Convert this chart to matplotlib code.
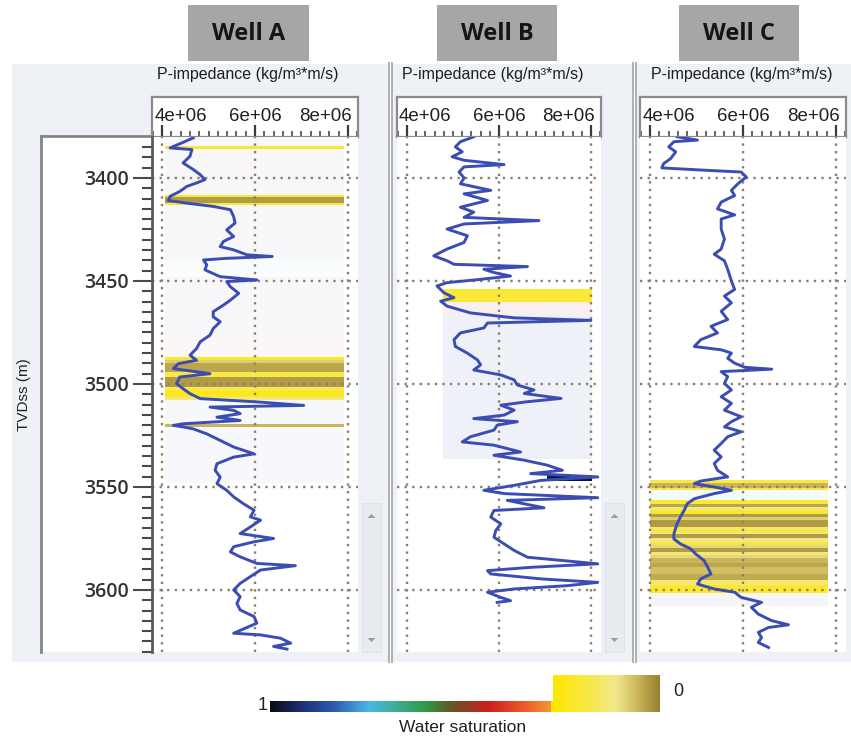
import numpy as np
import matplotlib
matplotlib.use("Agg")
import matplotlib.pyplot as plt
from matplotlib.colors import LinearSegmentedColormap
from matplotlib.patches import Rectangle, Polygon
from matplotlib.ticker import MultipleLocator, FixedLocator
from matplotlib.transforms import ScaledTranslation

# ---------------------------------------------------------------- data
well_names = ["Well A", "Well B", "Well C"]
x_title = "P-impedance (kg/m\u00b3*m/s)"
y_title = "TVDss (m)"
imp_ticks = [4e6, 6e6, 8e6]
imp_tick_labels = ["4e+06", "6e+06", "8e+06"]
depth_ticks = [3400, 3450, 3500, 3550, 3600]

# P-impedance logs: depth (m TVDss) and impedance (x1e6 kg/m3*m/s)
wellA_depth = [3380.5, 3383.0, 3385.4, 3386.2, 3389.4, 3392.7, 3395.9, 3398.4,
               3400.8, 3402.4, 3404.1, 3406.5, 3408.9, 3410.9, 3412.2, 3413.8,
               3415.4, 3418.7, 3421.9, 3425.2, 3428.4, 3430.8, 3433.3, 3434.9,
               3437.3, 3438.1, 3439.0, 3439.8, 3442.2, 3444.6, 3447.9, 3449.5,
               3450.3, 3452.8, 3456.0, 3459.3, 3461.7, 3464.9, 3467.4, 3469.8,
               3473.1, 3476.3, 3479.5, 3482.8, 3486.0, 3488.5, 3490.1, 3492.5,
               3495.0, 3496.6, 3499.8, 3502.3, 3504.7, 3507.1, 3508.8, 3510.4,
               3511.2, 3512.8, 3514.4, 3516.1, 3517.7, 3519.3, 3520.1, 3521.0,
               3521.8, 3524.2, 3527.4, 3530.6, 3533.9, 3535.5, 3538.7, 3541.9,
               3545.2, 3548.4, 3551.6, 3554.8, 3558.1, 3561.3, 3564.5, 3566.1,
               3569.4, 3572.6, 3575.0, 3576.6, 3579.0, 3581.5, 3583.9, 3587.1,
               3588.2, 3590.3, 3593.5, 3596.8, 3600.0, 3603.2, 3606.5, 3609.7,
               3612.9, 3616.1, 3621.0, 3621.8, 3623.4, 3625.8, 3627.4, 3628.7]
wellA_imp = [4.67, 4.42, 4.17, 4.64, 4.60, 4.45, 4.67, 4.82,
             4.92, 4.74, 4.53, 4.38, 4.17, 4.13, 4.53, 5.10,
             5.47, 5.54, 5.57, 5.39, 5.54, 5.32, 5.25, 5.54,
             5.83, 6.37, 5.39, 4.89, 4.96, 4.92, 5.25, 6.04,
             5.39, 5.47, 5.65, 5.47, 5.32, 5.10, 5.10, 5.25,
             5.10, 5.03, 4.82, 4.74, 4.60, 4.74, 4.35, 4.24,
             5.03, 4.38, 4.31, 4.45, 4.60, 4.82, 6.12, 7.05,
             5.03, 5.54, 5.68, 5.18, 5.68, 4.45, 4.24, 4.49,
             4.67, 4.96, 5.25, 5.54, 5.98, 5.54, 5.18, 5.14,
             5.25, 5.18, 5.39, 5.54, 5.75, 5.98, 5.90, 6.12,
             5.90, 5.68, 6.40, 5.98, 5.54, 5.47, 5.68, 6.04,
             6.87, 6.12, 5.90, 5.68, 5.54, 5.68, 5.61, 5.68,
             5.98, 6.04, 5.54, 6.12, 6.55, 6.77, 6.40, 6.69]

wellB_depth = [3380.0, 3382.4, 3384.9, 3387.3, 3389.7, 3391.4, 3393.5, 3394.6,
               3397.1, 3400.0, 3402.8, 3406.0, 3407.7, 3410.9, 3414.2, 3416.6,
               3419.1, 3420.7, 3422.3, 3424.8, 3428.0, 3431.3, 3434.5, 3437.8,
               3440.2, 3441.9, 3443.0, 3444.3, 3445.9, 3447.6, 3449.2, 3450.8,
               3452.4, 3455.7, 3458.1, 3459.8, 3462.2, 3465.5, 3467.9, 3469.1,
               3470.4, 3472.8, 3475.2, 3478.5, 3481.8, 3485.0, 3488.3, 3490.7,
               3493.2, 3495.6, 3498.0, 3500.5, 3502.9, 3504.6, 3507.0, 3508.6,
               3510.3, 3512.7, 3515.1, 3516.8, 3518.3, 3520.0, 3522.4, 3525.6,
               3528.1, 3529.7, 3533.0, 3534.6, 3537.0, 3539.4, 3541.9, 3543.5,
               3545.1, 3546.8, 3549.2, 3551.6, 3553.2, 3555.2, 3556.5, 3560.1,
               3561.4, 3564.6, 3567.9, 3571.1, 3574.4, 3577.6, 3580.8, 3584.1,
               3587.3, 3589.0, 3590.6, 3592.2, 3594.6, 3596.3, 3597.9, 3599.5,
               3601.1, 3603.6, 3605.2, 3606.0]
wellB_imp = [5.45, 5.16, 5.05, 5.20, 4.98, 5.24, 6.11, 5.24,
             5.13, 5.24, 5.16, 5.82, 5.24, 5.75, 5.16, 5.45,
             5.24, 6.87, 5.24, 4.87, 5.31, 5.24, 4.87, 4.58,
             4.87, 5.02, 6.62, 5.67, 5.89, 6.25, 5.60, 4.87,
             4.65, 4.80, 5.02, 4.73, 4.87, 5.38, 6.33, 8.00,
             5.75, 5.67, 5.16, 5.02, 5.05, 5.31, 5.53, 5.60,
             5.45, 6.04, 6.33, 6.40, 6.76, 6.55, 7.35, 6.62,
             6.04, 6.33, 6.11, 5.45, 6.40, 5.96, 5.89, 5.38,
             5.20, 5.89, 6.47, 5.89, 6.55, 7.05, 7.38, 6.69,
             8.15, 6.91, 6.33, 5.67, 6.11, 8.15, 6.18, 6.98,
             5.89, 5.82, 6.04, 5.93, 5.89, 6.11, 6.33, 6.62,
             8.15, 6.69, 5.75, 5.82, 6.91, 8.15, 7.49, 6.33,
             5.75, 6.04, 6.25, 5.96]

wellC_depth = [3380.0, 3381.6, 3382.4, 3384.9, 3387.3, 3390.6, 3393.0, 3395.1,
               3396.3, 3397.1, 3399.5, 3402.8, 3406.0, 3408.5, 3411.7, 3415.0,
               3417.9, 3419.9, 3424.8, 3429.6, 3434.5, 3437.0, 3440.2, 3444.3,
               3450.0, 3454.1, 3457.3, 3460.6, 3464.7, 3468.7, 3472.0, 3475.2,
               3478.5, 3481.8, 3483.4, 3485.0, 3487.5, 3489.9, 3491.9, 3492.8,
               3494.0, 3496.4, 3499.7, 3502.9, 3506.2, 3509.4, 3512.7, 3515.9,
               3518.3, 3520.8, 3523.2, 3525.6, 3528.9, 3532.1, 3535.4, 3538.6,
               3541.9, 3545.1, 3547.1, 3548.4, 3550.0, 3551.6, 3553.2, 3555.7,
               3558.1, 3561.4, 3564.6, 3567.9, 3572.7, 3575.2, 3577.6, 3580.0,
               3582.5, 3585.7, 3589.0, 3592.2, 3594.6, 3597.1, 3599.5, 3601.1,
               3603.6, 3606.0, 3608.4, 3611.7, 3614.9, 3616.9, 3618.2, 3620.6,
               3623.1, 3625.5, 3627.9]
wellC_imp = [4.58, 5.02, 4.51, 4.40, 4.55, 4.44, 4.29, 4.25,
             5.24, 5.96, 6.07, 5.89, 5.75, 5.82, 5.53, 5.45,
             5.82, 5.53, 5.53, 5.60, 5.53, 5.38, 5.60, 5.67,
             5.75, 5.82, 5.60, 5.75, 5.53, 5.67, 5.31, 5.45,
             5.09, 4.95, 5.53, 5.75, 5.67, 5.82, 6.04, 6.62,
             5.53, 5.67, 5.60, 5.75, 5.53, 5.75, 5.60, 5.96,
             5.75, 5.60, 5.96, 5.67, 5.53, 5.38, 5.53, 5.38,
             5.45, 5.67, 5.09, 4.95, 5.38, 5.75, 5.38, 4.95,
             4.80, 4.73, 4.65, 4.58, 4.51, 4.51, 4.65, 4.87,
             4.98, 5.16, 5.24, 5.31, 5.09, 5.02, 5.38, 5.82,
             5.96, 6.40, 6.18, 6.33, 6.62, 6.98, 6.55, 6.33,
             6.40, 6.33, 6.55]

# Water-saturation intervals: top, base (m TVDss), Sw, and left edge of the shading (x1e6)
wellA_sw_top = [3380.1, 3384.3, 3386.0, 3393.0, 3397.0, 3408.1, 3409.1, 3412.0,
                3413.0, 3440.0, 3448.0, 3476.0, 3486.9, 3488.5, 3490.0, 3494.2,
                3496.6, 3501.5, 3503.1, 3506.3, 3507.9, 3519.2, 3520.9]
wellA_sw_base = [3384.3, 3386.0, 3393.0, 3397.0, 3408.1, 3409.1, 3412.0, 3413.0,
                 3440.0, 3448.0, 3476.0, 3486.9, 3488.5, 3490.0, 3494.2, 3496.6,
                 3501.5, 3503.1, 3506.3, 3507.9, 3519.2, 3520.9, 3548.0]
wellA_sw = [0.90, 0.16, 0.88, 0.42, 0.90, 0.15, 0.02, 0.15,
            0.90, 0.70, 0.90, 0.40, 0.16, 0.06, 0.03, 0.14,
            0.02, 0.12, 0.17, 0.09, 0.88, 0.04, 0.85]
wellA_sw_left = [4.05] * len(wellA_sw)

wellB_sw_top = [3453.7, 3460.2, 3466.7, 3544.3]
wellB_sw_base = [3460.2, 3466.7, 3536.2, 3547.3]
wellB_sw = [0.15, 0.40, 0.85, 0.98]
wellB_sw_left = [4.78, 4.78, 4.78, 7.05]

wellC_sw_top = [3546.7, 3548.3, 3550.6, 3551.6, 3556.5, 3558.1, 3559.6, 3561.0,
                3562.9, 3564.5, 3565.8, 3569.4, 3570.8, 3571.6, 3572.6, 3575.0,
                3576.7, 3578.3, 3579.4, 3581.6, 3583.2, 3584.3, 3587.0, 3589.0,
                3592.0, 3595.3, 3597.7, 3601.7, 3603.0]
wellC_sw_base = [3548.3, 3550.6, 3551.6, 3556.5, 3558.1, 3559.6, 3561.0, 3562.9,
                 3564.5, 3565.8, 3569.4, 3570.8, 3571.6, 3572.6, 3575.0, 3576.7,
                 3578.3, 3579.4, 3581.6, 3583.2, 3584.3, 3587.0, 3589.0, 3592.0,
                 3595.3, 3597.7, 3601.7, 3603.0, 3608.0]
wellC_sw = [0.14, 0.04, 0.14, 0.60, 0.15, 0.03, 0.09, 0.16,
            0.02, 0.06, 0.02, 0.12, 0.17, 0.10, 0.02, 0.08,
            0.15, 0.07, 0.02, 0.10, 0.07, 0.04, 0.03, 0.05,
            0.035, 0.10, 0.16, 0.45, 0.85]
wellC_sw_left = [4.0] * len(wellC_sw)

sw_right = [7.92, 8.02, 7.83]

wells = [
    (wellA_depth, wellA_imp, wellA_sw_top, wellA_sw_base, wellA_sw, wellA_sw_left),
    (wellB_depth, wellB_imp, wellB_sw_top, wellB_sw_base, wellB_sw, wellB_sw_left),
    (wellC_depth, wellC_imp, wellC_sw_top, wellC_sw_base, wellC_sw, wellC_sw_left),
]

# ---------------------------------------------------------------- style
sw_cmap = LinearSegmentedColormap.from_list("sw", [
    (0.00, "#9a8232"), (0.04, "#cbb65a"), (0.08, "#f1e88e"), (0.13, "#f8e94a"),
    (0.20, "#ffe600"), (0.201, "#f39a34"), (0.28, "#ea5a2a"), (0.38, "#cf1f1f"),
    (0.48, "#6a5028"), (0.56, "#2f9a45"), (0.65, "#3fae9a"), (0.72, "#4ab8e6"),
    (0.82, "#2c5cb0"), (0.92, "#1b2b70"), (1.00, "#0b0b16")])

CURVE = "#3b4db2"
GRID = "#8f7d6d"
PANEL = "#eef1f5"
SANS = ["Liberation Sans", "DejaVu Sans"]
tint_alpha = [0.035, 0.075, 0.05]   # opacity of water-bearing intervals per track

W, H = 851, 741
fig = plt.figure(figsize=(W / 100, H / 100), dpi=100)
fig.patch.set_facecolor("white")


def frame(x0, y0, x1, y1):
    return [x0 / W, 1 - y1 / H, (x1 - x0) / W, (y1 - y0) / H]


# pixel-unit canvas for the window chrome
bg = fig.add_axes([0, 0, 1, 1], zorder=0)
bg.set_xlim(0, W)
bg.set_ylim(H, 0)
bg.axis("off")

for x0, x1 in [(12, 388), (392, 632), (636, 851)]:
    bg.add_patch(Rectangle((x0, 64), x1 - x0, 598, facecolor=PANEL, edgecolor="none"))
for x in (388.5, 392.0, 632.5, 636.0):
    bg.plot([x, x], [63, 662], color="#a9a9a9", lw=1.3)

title_boxes = [(188, 309), (437, 557), (679, 799)]
for name, (x0, x1) in zip(well_names, title_boxes):
    bg.add_patch(Rectangle((x0, 5), x1 - x0, 56, facecolor="#a6a6a6", edgecolor="none"))
    bg.text((x0 + x1) / 2, 34, name, ha="center", va="center", fontsize=17,
            fontweight="bold", family=["Open Sans", "DejaVu Sans"], color="#151515")

# depth scale frame on the left
bg.add_patch(Rectangle((41, 137), 111, 515, facecolor="white", edgecolor="none"))
bg.plot([41, 41], [136, 652], color="#858585", lw=2.0, solid_capstyle="projecting")
bg.plot([41, 152], [136, 136], color="#858585", lw=2.0, solid_capstyle="projecting")
bg.text(24, 395, y_title, rotation=90, ha="center", va="center", fontsize=11,
        family=SANS, color="#222222")

# scroll bars
for x0 in (362, 605):
    bg.add_patch(Rectangle((x0, 503), 19, 149, facecolor="#e8ecf1", edgecolor="#dfe3e8", lw=0.8))
    xc = x0 + 9.5
    bg.add_patch(Polygon([(xc - 4, 518), (xc + 4, 518), (xc, 514)], facecolor="#9c9c9c"))
    bg.add_patch(Polygon([(xc - 4, 638), (xc + 4, 638), (xc, 642)], facecolor="#9c9c9c"))

tracks = [(152, 358), (397, 601), (640, 846)]
title_centers = [248, 493, 742]
XLIM = (3.78e6, 8.22e6)
YLIM = (3630.1, 3380.1)

for i, ((x0, x1), (depth, imp, top, base, sw, left)) in enumerate(zip(tracks, wells)):
    bg.text(title_centers[i], 75, x_title, ha="center", va="center", fontsize=11.5,
            family=SANS, color="#1e1e1e")

    # ---- scale box with the impedance ticks
    tb = fig.add_axes(frame(x0, 97, x1, 137), zorder=2)
    tb.set_xlim(*XLIM)
    tb.set_ylim(0, 1)
    tb.set_facecolor("white")
    for s in tb.spines.values():
        s.set_color("#8a8a8a")
        s.set_linewidth(1.6)
    tb.set_yticks([])
    tb.xaxis.set_major_locator(FixedLocator(imp_ticks))
    tb.xaxis.set_minor_locator(MultipleLocator(0.2e6))
    tb.set_xticklabels(imp_tick_labels)
    tb.tick_params(axis="x", which="both", direction="in", bottom=True, top=False,
                   labelbottom=False, labeltop=True, pad=-20.5, labelsize=13.5,
                   color="#3a3a3a", labelcolor="#202020")
    tb.tick_params(axis="x", which="major", length=9, width=1.6)
    tb.tick_params(axis="x", which="minor", length=4.5, width=1.1)
    labs = tb.get_xticklabels()
    for lab in labs:
        lab.set_family(SANS)
    labs[0].set_ha("left")
    labs[0].set_transform(labs[0].get_transform() +
                          ScaledTranslation(-0.08, 0, fig.dpi_scale_trans))
    labs[-1].set_ha("right")
    labs[-1].set_transform(labs[-1].get_transform() +
                           ScaledTranslation(0.04, 0, fig.dpi_scale_trans))

    # ---- log track
    ax = fig.add_axes(frame(x0, 137, x1, 652), zorder=2)
    ax.set_xlim(*XLIM)
    ax.set_ylim(*YLIM)
    ax.set_facecolor("white")
    for s in ax.spines.values():
        s.set_visible(False)

    sw_arr = np.asarray(sw)
    colors = sw_cmap(sw_arr)
    colors[:, 3] = np.where((sw_arr < 0.3) | (sw_arr > 0.95), 1.0, tint_alpha[i])
    left_v = np.asarray(left) * 1e6
    ax.barh(y=(np.asarray(top) + np.asarray(base)) / 2,
            width=sw_right[i] * 1e6 - left_v, left=left_v,
            height=np.asarray(base) - np.asarray(top),
            color=colors, edgecolor="none", zorder=1)

    ax.set_xticks(imp_ticks)
    ax.set_yticks(depth_ticks)
    ax.set_axisbelow("line")
    ax.grid(True, color=GRID, ls=(0, (1.0, 2.2)), lw=1.7)
    ax.tick_params(axis="x", length=0, labelbottom=False)

    ax.plot(np.asarray(imp) * 1e6, depth, color=CURVE, lw=2.1, zorder=3,
            solid_joinstyle="round")

    if i == 0:
        ax.spines["left"].set_visible(True)
        ax.spines["left"].set_color("#5a5a5a")
        ax.spines["left"].set_linewidth(2.0)
        ax.yaxis.set_minor_locator(MultipleLocator(5))
        ax.tick_params(axis="y", which="major", length=14, width=1.5, color="#4a4a4a",
                       labelsize=14, pad=2.5, labelcolor="#333333")
        ax.tick_params(axis="y", which="minor", length=7.5, width=1.5, color="#4a4a4a")
        for lab in ax.get_yticklabels():
            lab.set_family(["Open Sans", "DejaVu Sans"])
            lab.set_fontweight("semibold")
    else:
        ax.tick_params(axis="y", length=0, labelleft=False)

# ---------------------------------------------------------------- Sw legend
cb1 = fig.add_axes(frame(270, 701, 553, 712), zorder=2)
cb1.imshow(np.linspace(1.0, 0.2, 300)[None, :], cmap=sw_cmap, vmin=0, vmax=1,
           aspect="auto", extent=(0, 1, 0, 1))
cb1.axis("off")
cb2 = fig.add_axes(frame(553, 675, 660, 712), zorder=2)
cb2.imshow(np.linspace(0.2, 0.0, 200)[None, :], cmap=sw_cmap, vmin=0, vmax=1,
           aspect="auto", extent=(0, 1, 0, 1))
cb2.axis("off")

bg.text(268, 706, "1", ha="right", va="center", fontsize=13, family=SANS, color="#222222")
bg.text(673, 692, "0", ha="left", va="center", fontsize=13, family=SANS, color="#222222")
bg.text(463, 728, "Water saturation", ha="center", va="center", fontsize=12.5,
        family=SANS, color="#222222")

fig.savefig("out.png", dpi=100)
